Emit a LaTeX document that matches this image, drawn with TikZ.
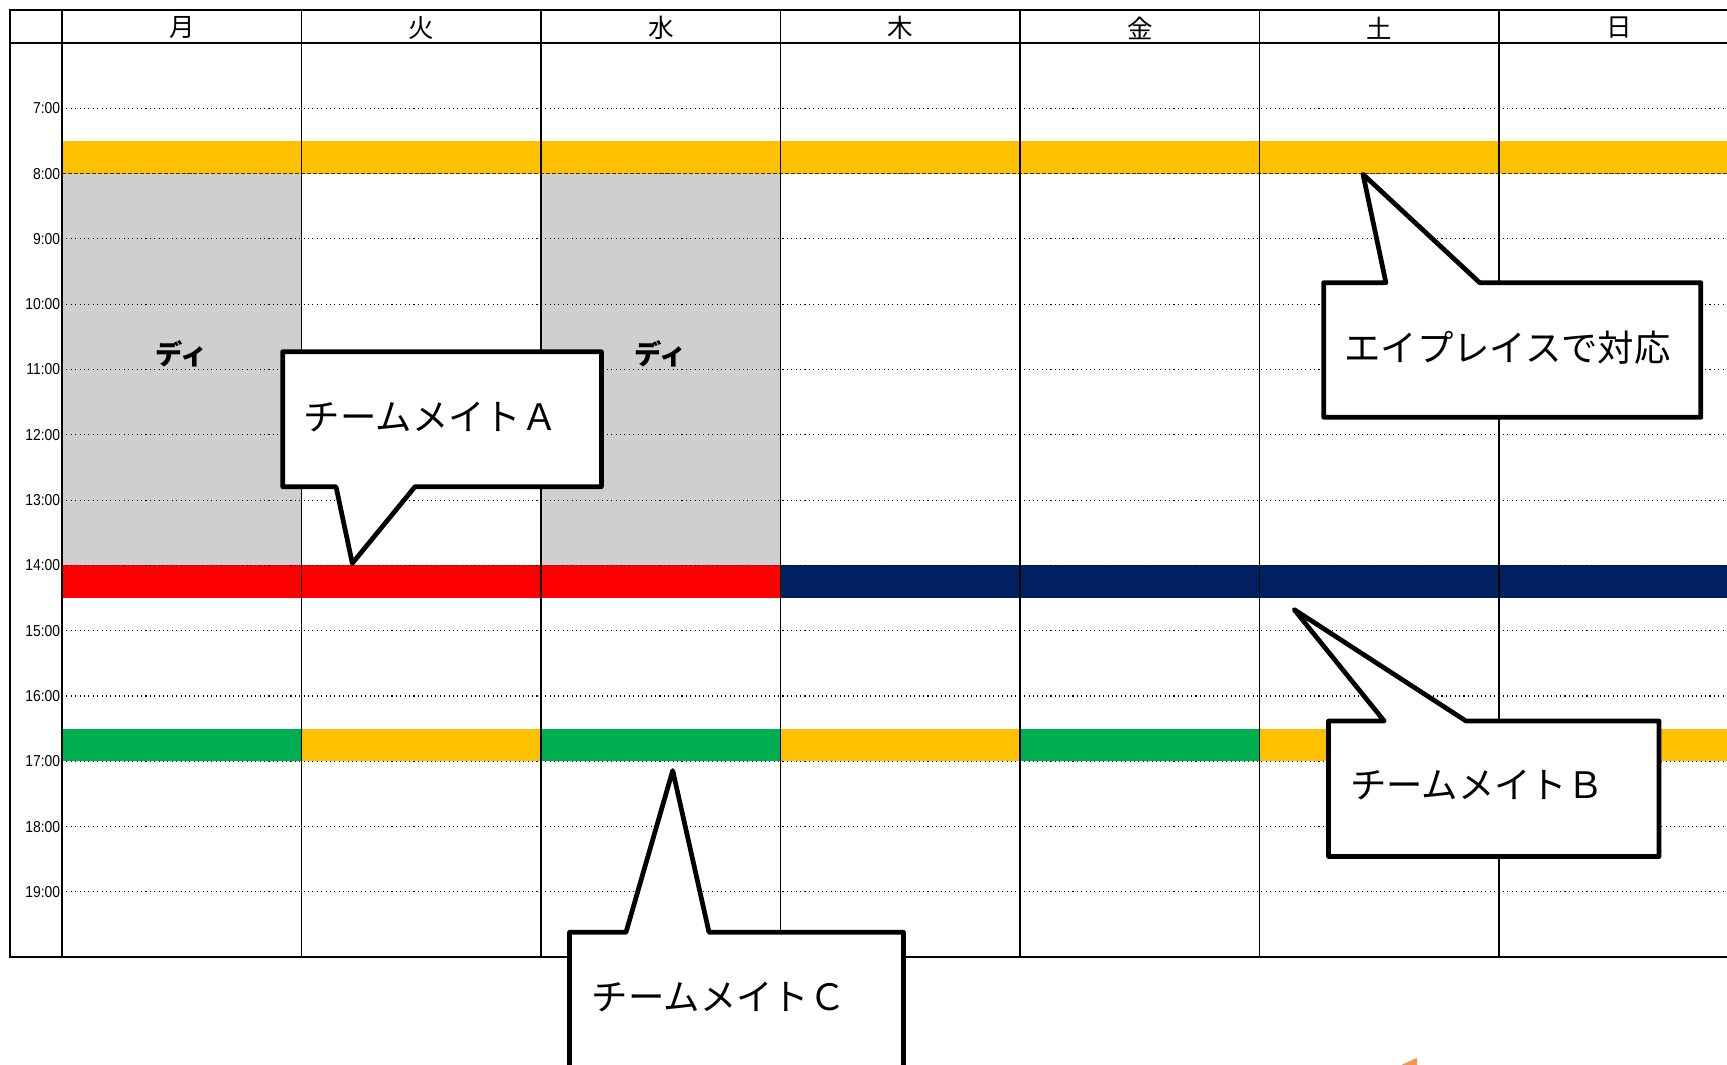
\documentclass[tikz,border=0pt]{standalone}
\usepackage{fontspec}
\usepackage{tikz}

\newfontfamily\jp{Noto Sans CJK JP}
\newfontfamily\timefont[FakeStretch=0.88]{Liberation Sans}

\definecolor{bandyellow}{HTML}{FFC000}
\definecolor{bandgray}{HTML}{D0CECE}
\definecolor{bandred}{HTML}{FF0000}
\definecolor{bandnavy}{HTML}{002060}
\definecolor{bandgreen}{HTML}{00B050}
\definecolor{arroworange}{HTML}{F79646}

\begin{document}
\begin{tikzpicture}[x=4.79cm, y=-1.306cm,
  day/.style={inner sep=0pt, font=\jp\fontsize{14.5}{17}\selectfont},
  hour/.style={anchor=east, inner sep=0pt, font=\timefont\fontsize{9}{10}\selectfont},
  dei/.style={inner sep=0pt, font=\jp\bfseries\fontsize{15.5}{18}\selectfont},
  mate/.style={anchor=west, inner sep=0pt, font=\jp\fontsize{20.7}{24}\selectfont},
  hourline/.style={line width=0.6pt, dash pattern=on 0.6pt off 1.9pt},
  bubble/.style={draw=black, fill=white, line width=2.7pt, line join=round}]
\useasboundingbox (-0.2589,-0.6585) rectangle (6.9520,15.6508);

% bands
\fill[bandyellow] (0,1.5) rectangle (7,2);
\fill[bandgray] (0,2) rectangle (1,8);
\fill[bandgray] (2,2) rectangle (3,8);
\fill[bandred] (0,8) rectangle (3,8.5);
\fill[bandnavy] (3,8) rectangle (7,8.5);
\fill[bandgreen] (0,10.5) rectangle (1,11);
\fill[bandyellow] (1,10.5) rectangle (2,11);
\fill[bandgreen] (2,10.5) rectangle (3,11);
\fill[bandyellow] (3,10.5) rectangle (4,11);
\fill[bandgreen] (4,10.5) rectangle (5,11);
\fill[bandyellow] (5,10.5) rectangle (7,11);

% hour lines
\foreach \h in {1,3,4,...,13} \draw[hourline] (0,\h) -- (7,\h);
\draw[line width=0.7pt, color=black!80, dash pattern=on 2.3pt off 1.1pt] (0,2) -- (7,2);

% columns and frame
\foreach \d in {0,...,6} \draw[line width=0.7pt] (\d,-0.505) -- (\d,14);
\draw[line width=0.9pt] (-0.216,0) -- (7,0);
\draw[line width=1.3pt] (-0.216,-0.505) rectangle (7,14);

\node[day] (mon) at (0.5,-0.23) {月};
\node[day] (tue) at (1.5,-0.23) {火};
\node[day] (wed) at (2.5,-0.23) {水};
\node[day] (thu) at (3.5,-0.23) {木};
\node[day] (fri) at (4.5,-0.23) {金};
\node[day] (sat) at (5.5,-0.23) {土};
\node[day] (sun) at (6.5,-0.23) {日};

\node[hour] (t7) at (-0.006,1) {7:00};
\node[hour] (t8) at (-0.006,2) {8:00};
\node[hour] (t9) at (-0.006,3) {9:00};
\node[hour] (t10) at (-0.006,4) {10:00};
\node[hour] (t11) at (-0.006,5) {11:00};
\node[hour] (t12) at (-0.006,6) {12:00};
\node[hour] (t13) at (-0.006,7) {13:00};
\node[hour] (t14) at (-0.006,8) {14:00};
\node[hour] (t15) at (-0.006,9) {15:00};
\node[hour] (t16) at (-0.006,10) {16:00};
\node[hour] (t17) at (-0.006,11) {17:00};
\node[hour] (t18) at (-0.006,12) {18:00};
\node[hour] (t19) at (-0.006,13) {19:00};

\node[dei] (deiMon) at (0.5,4.76) {ディ};
\node[dei] (deiWed) at (2.5,4.76) {ディ};

% callouts
\coordinate (tipA) at (1.2121,7.9678);
\draw[bubble] (0.9215,4.7274) -- (2.2522,4.7274) -- (2.2522,6.7948) -- (1.4739,6.7948) -- (tipA) -- (1.1441,6.7948) -- (0.9215,6.7948) -- cycle;
\node[mate] (mateA) at (1.0088,5.72) {チームメイトＡ};

\coordinate (tipP) at (5.4322,2.0107);
\draw[bubble] (5.2681,3.6708) -- (5.5278,3.6708) -- (tipP) -- (5.9194,3.6708) -- (6.8426,3.6708) -- (6.8426,5.7320) -- (5.2681,5.7320) -- cycle;
\node[mate] (aplace) at (5.3528,4.66) {エイプレイスで対応};

\coordinate (tipB) at (5.1445,8.6753);
\draw[bubble] (5.2881,10.383) -- (5.5207,10.383) -- (tipB) -- (5.8622,10.383) -- (6.6681,10.383) -- (6.6681,12.458) -- (5.2881,12.458) -- cycle;
\node[mate] (mateB) at (5.3766,11.37) {チームメイトＢ};

\coordinate (tipC) at (2.5499,11.1409);
\draw[bubble] (2.1190,13.6187) -- (2.3549,13.6187) -- (tipC) -- (2.7015,13.6187) -- (3.5136,13.6187) -- (3.5136,15.75) -- (2.1190,15.75) -- cycle;
\node[mate] (mateC) at (2.2113,14.61) {チームメイトＣ};

\fill[arroworange] (5.5866,15.66) -- (5.6576,15.543) -- (5.6576,15.66) -- cycle;
\end{tikzpicture}
\end{document}
